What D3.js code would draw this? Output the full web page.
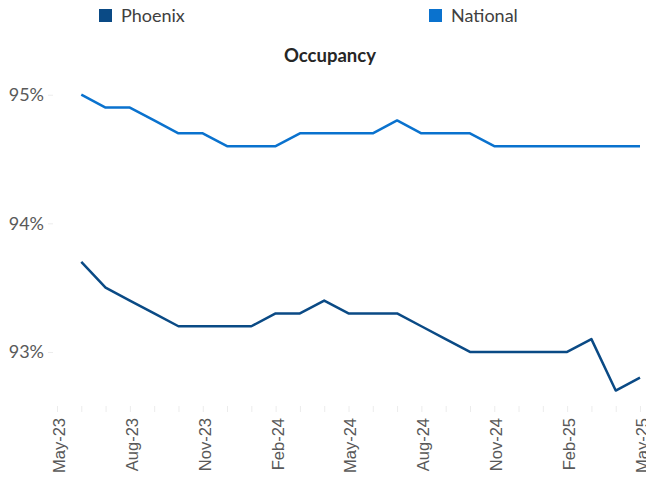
<!DOCTYPE html>
<html>
<head>
<meta charset="utf-8">
<script src="https://cdn.jsdelivr.net/npm/d3@7"></script>
<style>
  body { margin: 0; background: #fff; }
  .legend text { font: 18px Lato, sans-serif; fill: #404040; }
  .title { font: bold 18.5px Lato, sans-serif; fill: #262626; }
  .yaxis text { font: 18px Lato, sans-serif; fill: #595959; }
  .xaxis text { font: 16.5px "Liberation Sans", Arial, sans-serif; fill: #595959; }
  .axis path { display: none; }
  .axis line { stroke: #ececec; }
</style>
</head>
<body>
<svg width="646" height="482"></svg>
<script>
// monthly categories, May-23 .. May-25
const months = ["May-23","Jun-23","Jul-23","Aug-23","Sep-23","Oct-23","Nov-23","Dec-23",
  "Jan-24","Feb-24","Mar-24","Apr-24","May-24","Jun-24","Jul-24","Aug-24","Sep-24","Oct-24","Nov-24","Dec-24",
  "Jan-25","Feb-25","Mar-25","Apr-25","May-25"];
const tickLabels = ["May-23","Aug-23","Nov-23","Feb-24","May-24","Aug-24","Nov-24","Feb-25","May-25"];

// occupancy %, no value for May-23
const phoenix = [null, 93.7, 93.5, 93.4, 93.3, 93.2, 93.2, 93.2, 93.2, 93.3, 93.3, 93.4, 93.3,
  93.3, 93.3, 93.2, 93.1, 93.0, 93.0, 93.0, 93.0, 93.0, 93.1, 92.7, 92.8];
const national = [null, 95.0, 94.9, 94.9, 94.8, 94.7, 94.7, 94.6, 94.6, 94.6, 94.7, 94.7, 94.7,
  94.7, 94.8, 94.7, 94.7, 94.7, 94.6, 94.6, 94.6, 94.6, 94.6, 94.6, 94.6];
const yTicks = [93, 94, 95];

const series = [
  { name: "Phoenix", values: phoenix, color: "#0A4A85" },
  { name: "National", values: national, color: "#0A72CE" }
];

const svg = d3.select("svg");
const margin = { left: 57, right: 6, top: 69, bottom: 76 };
const width = +svg.attr("width"), height = +svg.attr("height");

const x = d3.scalePoint()
  .domain(months)
  .range([margin.left, width - margin.right]);

const y = d3.scaleLinear()
  .domain([92.58, 95.2])
  .range([height - margin.bottom, margin.top]);

// y axis
svg.append("g")
  .attr("class", "axis yaxis")
  .attr("transform", "translate(53,0)")
  .call(d3.axisLeft(y).tickValues(yTicks).tickSize(5).tickPadding(4).tickFormat(d => d + "%"));

// x axis
const xa = svg.append("g")
  .attr("class", "axis xaxis")
  .attr("transform", `translate(0,${height - margin.bottom})`)
  .call(d3.axisBottom(x).tickSize(6).tickFormat(d => tickLabels.includes(d) ? d : ""));

xa.selectAll("text")
  .attr("transform", "rotate(-90)")
  .attr("text-anchor", "end")
  .attr("x", -12)
  .attr("y", 0)
  .attr("dy", "0.45em");

const line = d3.line()
  .defined(d => d != null)
  .x((d, i) => x(months[i]))
  .y(d => y(d));

svg.selectAll(".series")
  .data(series)
  .enter().append("path")
  .attr("class", "series")
  .attr("fill", "none")
  .attr("stroke", d => d.color)
  .attr("stroke-width", 2.5)
  .attr("stroke-linejoin", "round")
  .attr("d", d => line(d.values));

// title
svg.append("text")
  .attr("class", "title")
  .attr("x", 330)
  .attr("y", 62)
  .attr("text-anchor", "middle")
  .text("Occupancy");

// legend
const legendX = [99, 429];
const lg = svg.append("g").attr("class", "legend")
  .selectAll("g")
  .data(series)
  .enter().append("g")
  .attr("transform", (d, i) => `translate(${legendX[i]},9)`);

lg.append("rect")
  .attr("width", 13)
  .attr("height", 13)
  .attr("fill", d => d.color);

lg.append("text")
  .attr("x", 22)
  .attr("y", 13)
  .text(d => d.name);
</script>
</body>
</html>
